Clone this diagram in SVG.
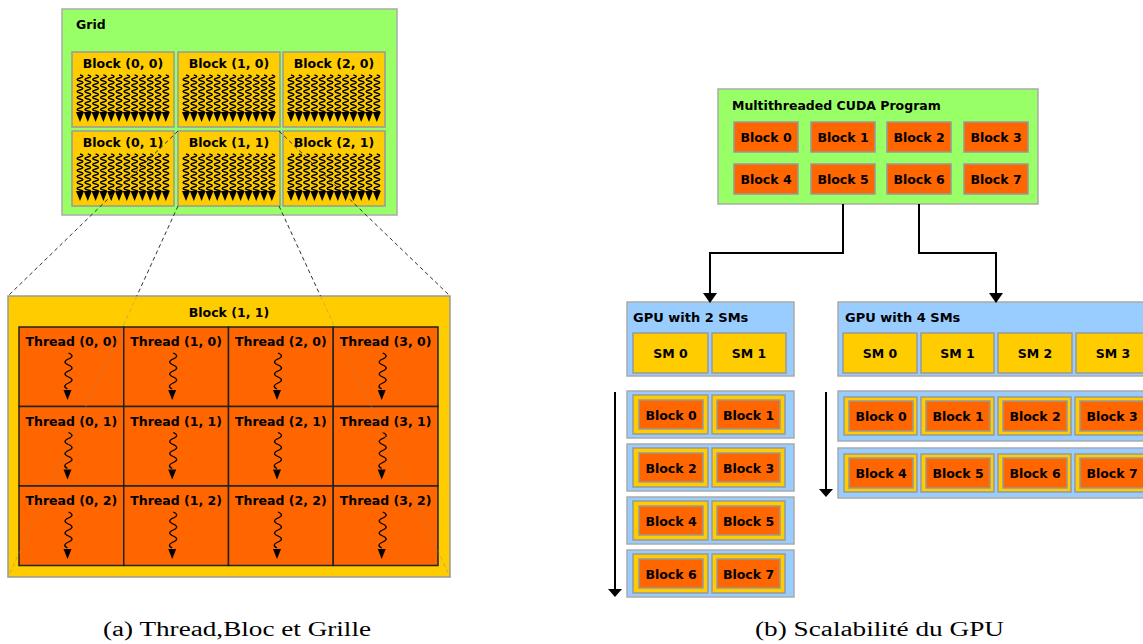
<svg xmlns="http://www.w3.org/2000/svg" xmlns:xlink="http://www.w3.org/1999/xlink" width="1143" height="644" viewBox="0 0 1143 644">
<style>
.g{fill:#99ff66;stroke:#aaaaaa;stroke-width:1.5}
.y{fill:#ffcc00;stroke:#999999;stroke-width:1.5}
.o{fill:#ff6600;stroke:#999999;stroke-width:1.5}
.b{fill:#99ccff;stroke:#aaaaaa;stroke-width:1.5}
.cell{fill:#ff6600;stroke:#222222;stroke-width:1.5}
.t{font-family:"DejaVu Sans",Verdana,sans-serif;font-weight:bold;font-size:12.5px;fill:#000}
.c{text-anchor:middle}
.w{fill:none;stroke:#000;stroke-width:1.3}
.cap{font-family:"Liberation Serif","Times New Roman",serif;font-size:20px;fill:#000}
.dash{fill:none;stroke:#333;stroke-width:1;stroke-dasharray:4 3}
.faint{fill:none;stroke:#888;stroke-opacity:0.45;stroke-width:1;stroke-dasharray:4 3}
.arr{fill:none;stroke:#000;stroke-width:2}
</style>
<defs>
<marker id="ah" markerUnits="userSpaceOnUse" viewBox="0 0 10 14" refX="9" refY="7" markerWidth="10" markerHeight="14" orient="auto"><path d="M0,0 L10,7 L0,14 z" fill="#000"/></marker>
<marker id="ahw" markerUnits="userSpaceOnUse" viewBox="0 0 8 14" refX="7" refY="7" markerWidth="8" markerHeight="14" orient="auto"><path d="M0,0 L8,7 L0,14 z" fill="#000"/></marker>
<g id="sw">
<path class="w" d="M0,0 q6,1.5 0,3 t0,3 t0,3 t0,3 t0,3 t0,3 t0,3 t0,3 t0,3 t0,3 t0,3 t0,3 t0,1"/>
<polygon points="-4,37 4,37 0,47" fill="#000"/>
</g>
<g id="thr12">
<use xlink:href="#sw" x="8" y="23"/><use xlink:href="#sw" x="15.8" y="23"/><use xlink:href="#sw" x="23.6" y="23"/><use xlink:href="#sw" x="31.4" y="23"/>
<use xlink:href="#sw" x="39.2" y="23"/><use xlink:href="#sw" x="47" y="23"/><use xlink:href="#sw" x="54.8" y="23"/><use xlink:href="#sw" x="62.6" y="23"/>
<use xlink:href="#sw" x="70.4" y="23"/><use xlink:href="#sw" x="78.2" y="23"/><use xlink:href="#sw" x="86" y="23"/><use xlink:href="#sw" x="93.8" y="23"/>
</g>
<g id="sq">
<path class="w" d="M1,0 q7,3 0,6 t0,6 t0,6 t0,6 t0,6 t-1,6"/>
<polygon points="-4,37 4,37 0,47" fill="#000"/>
</g>
</defs>

<!-- Part (a): Grid -->
<g id="grid">
<rect class="g" x="62" y="9" width="335" height="206"/>
<text class="t" x="76" y="29">Grid</text>
</g>
<g id="block00"><rect class="y" x="72" y="52" width="102" height="75"/><text class="t c" x="123" y="68">Block (0, 0)</text><use xlink:href="#thr12" x="72" y="52"/></g>
<g id="block10"><rect class="y" x="178" y="52" width="102" height="75"/><text class="t c" x="229" y="68">Block (1, 0)</text><use xlink:href="#thr12" x="178" y="52"/></g>
<g id="block20"><rect class="y" x="283" y="52" width="102" height="75"/><text class="t c" x="334" y="68">Block (2, 0)</text><use xlink:href="#thr12" x="283" y="52"/></g>
<g id="block01"><rect class="y" x="72" y="131" width="102" height="75"/><text class="t c" x="123" y="147">Block (0, 1)</text><use xlink:href="#thr12" x="72" y="131"/></g>
<g id="block11"><rect class="y" x="178" y="131" width="102" height="75"/><text class="t c" x="229" y="147">Block (1, 1)</text><use xlink:href="#thr12" x="178" y="131"/></g>
<g id="block21"><rect class="y" x="283" y="131" width="102" height="75"/><text class="t c" x="334" y="147">Block (2, 1)</text><use xlink:href="#thr12" x="283" y="131"/></g>

<!-- Block (1,1) expanded -->
<g id="bigblock">
<rect class="y" x="8" y="296" width="442" height="281"/>
<text class="t c" x="229" y="317">Block (1, 1)</text>
</g>
<g id="threads">
<rect class="cell" x="19" y="327" width="104.75" height="79.5"/>
<rect class="cell" x="123.75" y="327" width="104.75" height="79.5"/>
<rect class="cell" x="228.5" y="327" width="104.75" height="79.5"/>
<rect class="cell" x="333.25" y="327" width="104.75" height="79.5"/>
<rect class="cell" x="19" y="406.5" width="104.75" height="79.5"/>
<rect class="cell" x="123.75" y="406.5" width="104.75" height="79.5"/>
<rect class="cell" x="228.5" y="406.5" width="104.75" height="79.5"/>
<rect class="cell" x="333.25" y="406.5" width="104.75" height="79.5"/>
<rect class="cell" x="19" y="486" width="104.75" height="79.5"/>
<rect class="cell" x="123.75" y="486" width="104.75" height="79.5"/>
<rect class="cell" x="228.5" y="486" width="104.75" height="79.5"/>
<rect class="cell" x="333.25" y="486" width="104.75" height="79.5"/>
<text class="t c" x="71.4" y="346">Thread (0, 0)</text>
<text class="t c" x="176.1" y="346">Thread (1, 0)</text>
<text class="t c" x="280.9" y="346">Thread (2, 0)</text>
<text class="t c" x="385.6" y="346">Thread (3, 0)</text>
<text class="t c" x="71.4" y="425.5">Thread (0, 1)</text>
<text class="t c" x="176.1" y="425.5">Thread (1, 1)</text>
<text class="t c" x="280.9" y="425.5">Thread (2, 1)</text>
<text class="t c" x="385.6" y="425.5">Thread (3, 1)</text>
<text class="t c" x="71.4" y="505">Thread (0, 2)</text>
<text class="t c" x="176.1" y="505">Thread (1, 2)</text>
<text class="t c" x="280.9" y="505">Thread (2, 2)</text>
<text class="t c" x="385.6" y="505">Thread (3, 2)</text>
<use xlink:href="#sq" x="67.5" y="353"/><use xlink:href="#sq" x="172.2" y="353"/><use xlink:href="#sq" x="277" y="353"/><use xlink:href="#sq" x="381.7" y="353"/>
<use xlink:href="#sq" x="67.5" y="432.5"/><use xlink:href="#sq" x="172.2" y="432.5"/><use xlink:href="#sq" x="277" y="432.5"/><use xlink:href="#sq" x="381.7" y="432.5"/>
<use xlink:href="#sq" x="67.5" y="512"/><use xlink:href="#sq" x="172.2" y="512"/><use xlink:href="#sq" x="277" y="512"/><use xlink:href="#sq" x="381.7" y="512"/>
</g>

<!-- Part (b): Scalability -->
<g id="cuda">
<rect class="g" x="718" y="89" width="320" height="115"/>
<text class="t" x="732" y="110">Multithreaded CUDA Program</text>
<rect class="o" x="734" y="122" width="64" height="30"/><text class="t c" x="766" y="142">Block 0</text>
<rect class="o" x="811" y="122" width="64" height="30"/><text class="t c" x="843" y="142">Block 1</text>
<rect class="o" x="887" y="122" width="64" height="30"/><text class="t c" x="919" y="142">Block 2</text>
<rect class="o" x="964" y="122" width="64" height="30"/><text class="t c" x="996" y="142">Block 3</text>
<rect class="o" x="734" y="164" width="64" height="30"/><text class="t c" x="766" y="184">Block 4</text>
<rect class="o" x="811" y="164" width="64" height="30"/><text class="t c" x="843" y="184">Block 5</text>
<rect class="o" x="887" y="164" width="64" height="30"/><text class="t c" x="919" y="184">Block 6</text>
<rect class="o" x="964" y="164" width="64" height="30"/><text class="t c" x="996" y="184">Block 7</text>
</g>

<g id="gpu2">
<rect class="b" x="627" y="302" width="167" height="74"/>
<text class="t" x="633" y="322" style="font-size:13px">GPU with 2 SMs</text>
<rect class="y" x="633" y="333" width="75" height="40"/><text class="t c" x="670.5" y="358">SM 0</text>
<rect class="y" x="712" y="333" width="74" height="40"/><text class="t c" x="749" y="358">SM 1</text>
</g>
<g id="gpu2rows">
<rect class="b" x="627" y="391" width="167" height="47"/>
<rect class="y" x="633" y="395" width="75" height="39"/><rect class="o" x="639" y="400" width="64" height="29"/><text class="t c" x="671" y="419.5">Block 0</text>
<rect class="y" x="712" y="395" width="73" height="39"/><rect class="o" x="717" y="400" width="63" height="29"/><text class="t c" x="748.5" y="419.5">Block 1</text>
<rect class="b" x="627" y="444" width="167" height="47"/>
<rect class="y" x="633" y="448" width="75" height="39"/><rect class="o" x="639" y="453" width="64" height="29"/><text class="t c" x="671" y="472.5">Block 2</text>
<rect class="y" x="712" y="448" width="73" height="39"/><rect class="o" x="717" y="453" width="63" height="29"/><text class="t c" x="748.5" y="472.5">Block 3</text>
<rect class="b" x="627" y="497" width="167" height="47"/>
<rect class="y" x="633" y="501" width="75" height="39"/><rect class="o" x="639" y="506" width="64" height="29"/><text class="t c" x="671" y="525.5">Block 4</text>
<rect class="y" x="712" y="501" width="73" height="39"/><rect class="o" x="717" y="506" width="63" height="29"/><text class="t c" x="748.5" y="525.5">Block 5</text>
<rect class="b" x="627" y="550" width="167" height="47"/>
<rect class="y" x="633" y="554" width="75" height="39"/><rect class="o" x="639" y="559" width="64" height="29"/><text class="t c" x="671" y="578.5">Block 6</text>
<rect class="y" x="712" y="554" width="73" height="39"/><rect class="o" x="717" y="559" width="63" height="29"/><text class="t c" x="748.5" y="578.5">Block 7</text>
</g>

<g id="gpu4">
<rect class="b" x="838" y="302" width="315" height="74"/>
<text class="t" x="845" y="322" style="font-size:13px">GPU with 4 SMs</text>
<rect class="y" x="843" y="333" width="74" height="40"/><text class="t c" x="880" y="358">SM 0</text>
<rect class="y" x="921" y="333" width="73" height="40"/><text class="t c" x="957.5" y="358">SM 1</text>
<rect class="y" x="998" y="333" width="74" height="40"/><text class="t c" x="1035" y="358">SM 2</text>
<rect class="y" x="1076" y="333" width="74" height="40"/><text class="t c" x="1113" y="358">SM 3</text>
</g>
<g id="gpu4rows">
<rect class="b" x="838" y="391" width="315" height="50"/>
<rect class="y" x="844" y="397" width="73" height="38"/><rect class="o" x="849" y="401" width="64" height="30"/><text class="t c" x="881" y="421">Block 0</text>
<rect class="y" x="921" y="397" width="73" height="38"/><rect class="o" x="926" y="401" width="64" height="30"/><text class="t c" x="958" y="421">Block 1</text>
<rect class="y" x="998" y="397" width="73" height="38"/><rect class="o" x="1003" y="401" width="64" height="30"/><text class="t c" x="1035" y="421">Block 2</text>
<rect class="y" x="1075" y="397" width="73" height="38"/><rect class="o" x="1080" y="401" width="64" height="30"/><text class="t c" x="1112" y="421">Block 3</text>
<rect class="b" x="838" y="448" width="315" height="50"/>
<rect class="y" x="844" y="454" width="73" height="38"/><rect class="o" x="849" y="458" width="64" height="30"/><text class="t c" x="881" y="478">Block 4</text>
<rect class="y" x="921" y="454" width="73" height="38"/><rect class="o" x="926" y="458" width="64" height="30"/><text class="t c" x="958" y="478">Block 5</text>
<rect class="y" x="998" y="454" width="73" height="38"/><rect class="o" x="1003" y="458" width="64" height="30"/><text class="t c" x="1035" y="478">Block 6</text>
<rect class="y" x="1075" y="454" width="73" height="38"/><rect class="o" x="1080" y="458" width="64" height="30"/><text class="t c" x="1112" y="478">Block 7</text>
</g>

<g id="connectors">
<line class="dash" x1="178" y1="131" x2="8" y2="296"/>
<line class="dash" x1="279" y1="131" x2="450" y2="296"/>
<line class="dash" x1="178" y1="206" x2="136.8" y2="296"/>
<line class="dash" x1="279" y1="206" x2="320.5" y2="296"/>
<line class="faint" x1="136.8" y1="296" x2="8" y2="577"/>
<line class="faint" x1="320.5" y1="296" x2="450" y2="577"/>
<path class="arr" d="M843,204 V253 H710 V302" marker-end="url(#ah)"/>
<path class="arr" d="M919,204 V253 H996 V302" marker-end="url(#ah)"/>
<path class="arr" d="M615,392 V596" marker-end="url(#ahw)"/>
<path class="arr" d="M826,392 V496" marker-end="url(#ahw)"/>
</g>

<g id="captions">
<text class="cap" x="103" y="636" textLength="268" lengthAdjust="spacingAndGlyphs">(a) Thread,Bloc et Grille</text>
<text class="cap" x="755" y="636" textLength="249" lengthAdjust="spacingAndGlyphs">(b) Scalabilité du GPU</text>
</g>
</svg>
